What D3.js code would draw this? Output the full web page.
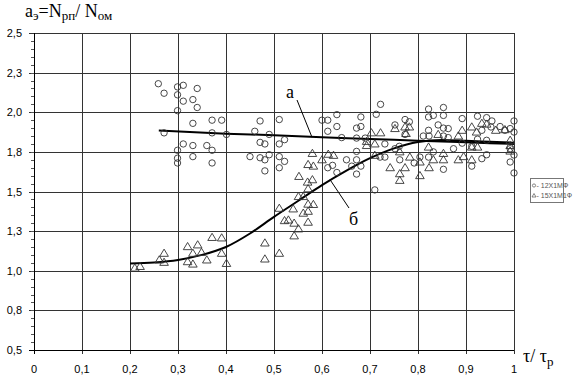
<!DOCTYPE html>
<html>
<head>
<meta charset="utf-8">
<script src="https://cdn.jsdelivr.net/npm/d3@7"></script>
<style>
  body { margin: 0; background: #fff; }
  svg { display: block; }
</style>
</head>
<body>
<svg id="chart"></svg>
<script>
// ticks
const xTicks = [0, 0.1, 0.2, 0.3, 0.4, 0.5, 0.6, 0.7, 0.8, 0.9, 1];
const xTickLabels = ["0", "0,1", "0,2", "0,3", "0,4", "0,5", "0,6", "0,7", "0,8", "0,9", "1"];
const yTicks = [0.5, 0.75, 1.0, 1.25, 1.5, 1.75, 2.0, 2.25, 2.5];
const yTickLabels = ["0,5", "0,8", "1,0", "1,3", "1,5", "1,8", "2,0", "2,3", "2,5"];

// 12Х1МФ (circles), [τ/τp, aэ]
const steel12 = [
  [0.259, 2.18], [0.271, 2.12], [0.299, 2.16], [0.311, 2.17], [0.340, 2.15], [0.299, 2.11],
  [0.311, 2.07], [0.331, 2.08], [0.340, 2.03], [0.299, 2.01], [0.331, 1.93], [0.371, 1.95],
  [0.391, 1.95], [0.271, 1.87], [0.371, 1.87], [0.311, 1.80], [0.331, 1.79], [0.360, 1.79],
  [0.371, 1.76], [0.299, 1.76], [0.331, 1.72], [0.299, 1.71], [0.299, 1.68], [0.371, 1.68],
  [0.471, 1.945], [0.511, 1.954], [0.460, 1.88], [0.490, 1.86], [0.471, 1.81], [0.481, 1.80],
  [0.511, 1.80], [0.522, 1.827], [0.401, 1.86], [0.450, 1.72], [0.471, 1.713], [0.481, 1.70],
  [0.490, 1.732], [0.511, 1.72], [0.522, 1.69], [0.511, 1.65], [0.481, 1.63], [0.600, 1.95],
  [0.612, 1.95], [0.631, 1.985], [0.631, 1.91], [0.612, 1.88], [0.641, 1.84], [0.681, 1.97],
  [0.713, 1.987], [0.722, 2.05], [0.672, 1.90], [0.681, 1.91], [0.672, 1.837], [0.672, 1.753],
  [0.672, 1.70], [0.651, 1.70], [0.622, 1.665], [0.612, 1.65], [0.631, 1.62], [0.662, 1.66],
  [0.681, 1.66], [0.672, 1.61], [0.710, 1.51], [0.731, 1.80], [0.731, 1.717], [0.721, 1.717],
  [0.752, 1.92], [0.773, 1.954], [0.782, 1.94], [0.773, 1.86], [0.762, 1.70], [0.792, 1.68],
  [0.761, 1.785], [0.752, 1.77], [0.811, 1.85], [0.804, 1.717], [0.690, 1.837],
  [0.822, 2.02], [0.853, 2.03], [0.822, 1.97], [0.832, 1.98], [0.853, 1.98], [0.842, 1.92],
  [0.822, 1.886], [0.853, 1.90], [0.863, 1.897], [0.892, 1.96], [0.924, 1.975], [0.943, 1.966],
  [0.954, 1.945], [0.823, 1.85], [0.853, 1.85], [0.863, 1.84], [0.874, 1.77], [0.832, 1.75],
  [0.822, 1.717], [0.853, 1.64], [0.892, 1.805], [0.912, 1.785], [0.924, 1.83], [0.912, 1.66],
  [0.933, 1.707], [0.943, 1.732], [0.933, 1.886], [0.943, 1.823], [1.0, 1.945], [1.0, 1.875],
  [1.0, 1.73], [1.0, 1.617], [0.992, 1.686], [0.992, 1.77], [0.981, 1.886], [0.992, 1.897],
  [0.971, 1.91], [0.952, 1.907]
];

// 15Х1М1Ф (triangles)
const steel15 = [
  [0.210, 1.017], [0.221, 1.027], [0.271, 1.11], [0.261, 1.068], [0.271, 1.053], [0.320, 1.152],
  [0.341, 1.163], [0.331, 1.11], [0.349, 1.116], [0.360, 1.068], [0.320, 1.057], [0.331, 1.042],
  [0.371, 1.21], [0.391, 1.207], [0.391, 1.11], [0.401, 1.046], [0.481, 1.175], [0.481, 1.074],
  [0.511, 1.11], [0.511, 1.394], [0.522, 1.316], [0.530, 1.32], [0.540, 1.39], [0.542, 1.30],
  [0.551, 1.264], [0.542, 1.22], [0.561, 1.363], [0.571, 1.306], [0.571, 1.375], [0.582, 1.418],
  [0.571, 1.42], [0.551, 1.468], [0.561, 1.468], [0.571, 1.517], [0.570, 1.559], [0.580, 1.574],
  [0.552, 1.595], [0.571, 1.67], [0.582, 1.66], [0.580, 1.74], [0.600, 1.70],
  [0.613, 1.735], [0.624, 1.728], [0.703, 1.87], [0.722, 1.87], [0.693, 1.816], [0.693, 1.79],
  [0.710, 1.80], [0.710, 1.728], [0.752, 1.897], [0.773, 1.907], [0.782, 1.907], [0.762, 1.75],
  [0.783, 1.717], [0.742, 1.65], [0.773, 1.65], [0.762, 1.612], [0.804, 1.60], [0.804, 1.686],
  [0.775, 1.866], [0.762, 1.57],
  [0.842, 1.86], [0.822, 1.78], [0.853, 1.74], [0.853, 1.70], [0.832, 1.70], [0.823, 1.65],
  [0.884, 1.85], [0.892, 1.886], [0.884, 1.70], [0.895, 1.72], [0.912, 1.70], [0.912, 1.907],
  [0.922, 1.875], [0.933, 1.93], [0.943, 1.925], [0.962, 1.886], [0.912, 1.78], [0.924, 1.78],
  [0.992, 1.823], [0.992, 1.79], [0.992, 1.755], [0.981, 1.89]
];

// fitted curves "а" and "б"
const lineA = [
  [0.26, 1.885], [0.4, 1.865], [0.5, 1.855], [0.6, 1.842], [0.7, 1.832], [0.8, 1.82], [0.9, 1.81], [1.0, 1.80]
];
const lineB = [
  [0.2, 1.045], [0.25, 1.052], [0.3, 1.068], [0.35, 1.10], [0.4, 1.15], [0.45, 1.235], [0.5, 1.34],
  [0.55, 1.44], [0.6, 1.54], [0.65, 1.63], [0.7, 1.71], [0.75, 1.772], [0.8, 1.812], [0.85, 1.825],
  [0.9, 1.82], [0.95, 1.814], [1.0, 1.808]
];

const width = 587, height = 377;
const svg = d3.select("#chart").attr("width", width).attr("height", height);
svg.append("rect").attr("width", width).attr("height", height).attr("fill", "#fff");

const x = d3.scaleLinear().domain([0, 1]).range([34, 514]);
const y = d3.scaleLinear().domain([0.5, 2.5]).range([350, 33]);

// grid
const grid = svg.append("g").attr("stroke", "#333").attr("stroke-width", 1).attr("shape-rendering", "crispEdges");
grid.selectAll("line.v").data(xTicks.slice(1)).enter().append("line")
  .attr("x1", d => Math.round(x(d)) + 0.5).attr("x2", d => Math.round(x(d)) + 0.5)
  .attr("y1", y(2.5)).attr("y2", y(0.5) + 4);
grid.selectAll("line.h").data(yTicks.slice(1)).enter().append("line")
  .attr("x1", x(0) - 5).attr("x2", x(1))
  .attr("y1", d => Math.round(y(d)) + 0.5).attr("y2", d => Math.round(y(d)) + 0.5);

// axes
const axes = svg.append("g").attr("stroke", "#000").attr("shape-rendering", "crispEdges");
axes.append("line").attr("x1", x(0) + 0.5).attr("x2", x(0) + 0.5).attr("y1", y(2.5)).attr("y2", y(0.5) + 4);
axes.append("line").attr("x1", x(0) - 5).attr("x2", x(1)).attr("y1", y(0.5) + 0.5).attr("y2", y(0.5) + 0.5);
// minor y ticks
axes.selectAll("line.minor").data(d3.range(0.55, 2.5, 0.05)).enter().append("line")
  .attr("x1", x(0) - 3).attr("x2", x(0))
  .attr("y1", d => Math.round(y(d)) + 0.5).attr("y2", d => Math.round(y(d)) + 0.5)
  .attr("stroke", "#555");

const labels = svg.append("g").attr("font-family", "'Liberation Sans', Arial, sans-serif").attr("font-size", 11).attr("fill", "#000");
labels.selectAll("text.y").data(yTicks).enter().append("text")
  .attr("x", x(0) - 12).attr("y", d => y(d) + 4).attr("text-anchor", "end")
  .text((d, i) => yTickLabels[i]);
labels.selectAll("text.x").data(xTicks).enter().append("text")
  .attr("x", d => x(d)).attr("y", 373).attr("text-anchor", "middle")
  .text((d, i) => xTickLabels[i]);

// curves
const line = d3.line().x(d => x(d[0])).y(d => y(d[1])).curve(d3.curveMonotoneX);
svg.append("path").datum(lineA).attr("d", line).attr("fill", "none").attr("stroke", "#000").attr("stroke-width", 2);
svg.append("path").datum(lineB).attr("d", line).attr("fill", "none").attr("stroke", "#000").attr("stroke-width", 2);

// markers
svg.append("g").selectAll("circle").data(steel12).enter().append("circle")
  .attr("cx", d => x(d[0])).attr("cy", d => y(d[1])).attr("r", 3.2)
  .attr("fill", "none").attr("stroke", "#333").attr("stroke-width", 0.9);
svg.append("g").selectAll("path").data(steel15).enter().append("path")
  .attr("transform", d => `translate(${x(d[0])},${y(d[1])})`)
  .attr("d", "M0,-4.2L4.3,3L-4.3,3Z")
  .attr("fill", "none").attr("stroke", "#333").attr("stroke-width", 0.9);

// curve labels with leaders
const serif = "Liberation Serif";
svg.append("line").attr("x1", 297).attr("y1", 100).attr("x2", 312).attr("y2", y(1.842))
  .attr("stroke", "#000").attr("stroke-width", 1);
svg.append("text").attr("x", 286).attr("y", 98).attr("font-family", serif).attr("font-size", 18).text("а");
svg.append("line").attr("x1", 349).attr("y1", 208).attr("x2", 330).attr("y2", y(1.575))
  .attr("stroke", "#000").attr("stroke-width", 1);
svg.append("text").attr("x", 349).attr("y", 225).attr("font-family", serif).attr("font-size", 18).text("б");

// title
const title = svg.append("text").attr("x", 25).attr("y", 17).attr("font-family", serif).attr("font-size", 18);
title.append("tspan").text("a");
title.append("tspan").attr("font-size", 13).attr("dy", 3).text("э");
title.append("tspan").attr("dy", -3).text("=N");
title.append("tspan").attr("font-size", 13).attr("dy", 3).text("рп");
title.append("tspan").attr("dy", -3).text("/ N");
title.append("tspan").attr("font-size", 13).attr("dy", 3).text("ом");

// x axis title
const xt = svg.append("text").attr("x", 523).attr("y", 362).attr("font-family", serif).attr("font-size", 18);
xt.append("tspan").text("τ/ τ");
xt.append("tspan").attr("font-size", 13).attr("dy", 4).text("р");

// legend
const legend = svg.append("g").attr("transform", "translate(530,178)");
legend.append("rect").attr("x", 0.5).attr("y", 0.5).attr("width", 33).attr("height", 24)
  .attr("fill", "#fff").attr("stroke", "#777");
legend.append("circle").attr("cx", 4).attr("cy", 7.5).attr("r", 1.6).attr("fill", "none").attr("stroke", "#555").attr("stroke-width", 0.7);
legend.append("path").attr("d", "M4,15.5L6,19L2,19Z").attr("fill", "none").attr("stroke", "#555").attr("stroke-width", 0.7);
legend.append("text").attr("x", 6.5).attr("y", 10).attr("font-family", "'Liberation Sans', Arial, sans-serif")
  .attr("font-size", 7).attr("fill", "#555").text("- 12Х1МФ");
legend.append("text").attr("x", 6.5).attr("y", 20).attr("font-family", "'Liberation Sans', Arial, sans-serif")
  .attr("font-size", 7).attr("fill", "#555").text("- 15Х1М1Ф");
</script>
</body>
</html>
